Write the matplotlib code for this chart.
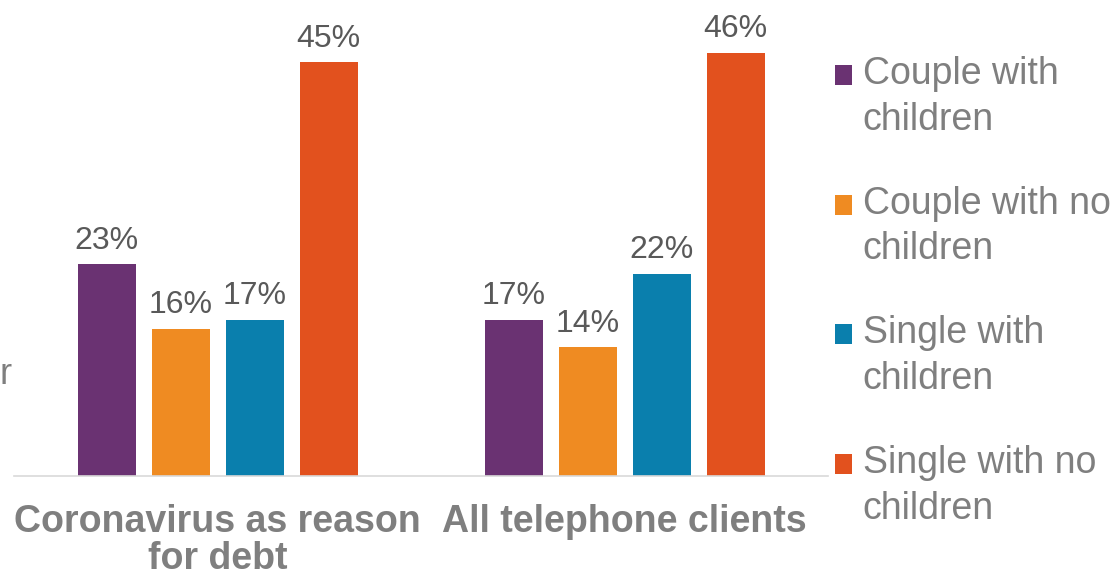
import matplotlib
matplotlib.use("Agg")
import matplotlib.pyplot as plt
from matplotlib.patches import Rectangle
from matplotlib.legend_handler import HandlerPatch
from matplotlib.container import BarContainer
import numpy as np

plt.rcParams["font.family"] = ["Liberation Sans", "DejaVu Sans"]

categories = ["Coronavirus as reason\nfor debt", "All telephone clients"]
series = ["Couple with\nchildren", "Couple with no\nchildren", "Single with\nchildren", "Single with no\nchildren"]
couple_kids = [23, 17]
couple_nokids = [16, 14]
single_kids = [17, 22]
single_nokids = [45, 46]
values = [couple_kids, couple_nokids, single_kids, single_nokids]
colors = ["#6a3272", "#ef8b22", "#0a7fad", "#e2511e"]

W, H = 1114, 578
fig = plt.figure(figsize=(W / 100, H / 100), dpi=100)
ax = fig.add_axes([14 / W, 1 - 476 / H, (828 - 14) / W, (476 - 16) / H])

x = np.arange(len(categories))
bw = 58 / 407
step = 74 / 407
for i, (vals, c) in enumerate(zip(values, colors)):
    bars = ax.bar(x + (i - 1.5) * step, vals, bw, color=c, label=series[i])
    ax.bar_label(bars, labels=[f"{v}%" for v in vals], padding=6,
                 fontsize=23, color="#595959")

ax.set_xlim(-0.5, 1.5)
ax.set_ylim(0, 50)
for s in ["top", "right", "left"]:
    ax.spines[s].set_visible(False)
ax.spines["bottom"].set_color("#d9d9d9")
ax.spines["bottom"].set_linewidth(1.2)
ax.set_yticks([])
ax.set_xticks(x)
ax.set_xticklabels(categories, fontsize=27, fontweight="bold", color="#7f7f7f",
                   linespacing=1.05)
ax.tick_params(axis="x", length=0, pad=20)


# legend square sits beside the first line of each two-line label
def top_square(legend, orig_handle, xdescent, ydescent, width, height, fontsize):
    return Rectangle((-xdescent, -ydescent + 0.6 * fontsize), width, height)


def first_child(tgt, src):
    tgt.update_from(src.patches[0])


leg = fig.legend(loc="upper left", bbox_to_anchor=(801 / W, 1 - 22 / H), frameon=False,
                 fontsize=27, labelcolor="#7f7f7f", handlelength=0.45, handleheight=0.45,
                 handletextpad=0.3, labelspacing=1.28,
                 handler_map={BarContainer: HandlerPatch(patch_func=top_square,
                                                         update_func=first_child)})
for t in leg.get_texts():
    t.set_linespacing(1.35)

fig.text(0.0, 1 - 375 / H, "r", fontsize=26, color="#7f7f7f", va="center", ha="left")

fig.savefig("out.png", dpi=100)
